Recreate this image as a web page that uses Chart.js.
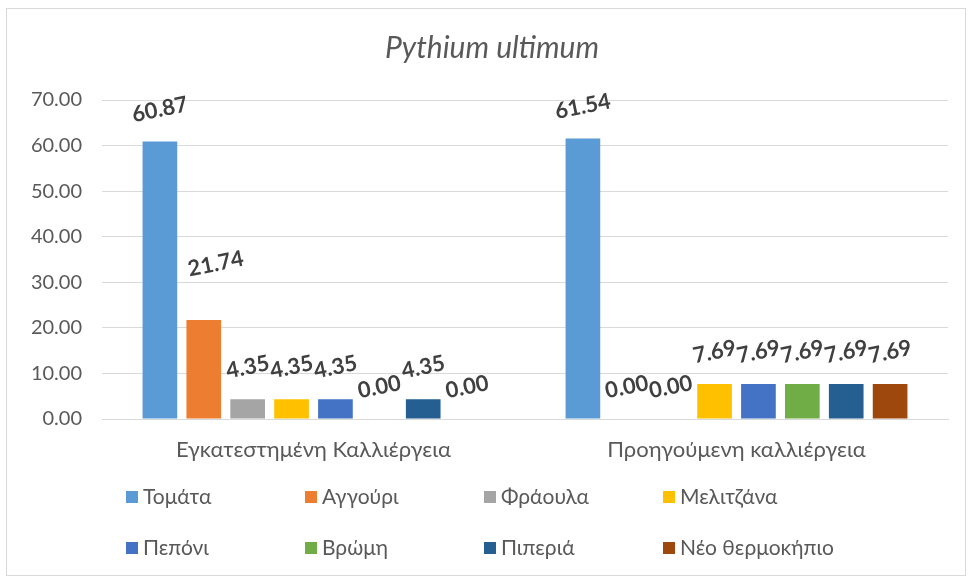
<!DOCTYPE html>
<html>
<head>
<meta charset="utf-8">
<script src="https://cdn.jsdelivr.net/npm/chart.js@4.4.0/dist/chart.umd.min.js"></script>
<style>
  html, body { margin: 0; padding: 0; background: #fff; }
  #wrap { position: relative; width: 969px; height: 579px; }
  #frame { position: absolute; left: 6px; top: 8px; width: 958px; height: 566px; border: 1px solid #d9d9d9; pointer-events: none; }
</style>
</head>
<body>
<div id="wrap">
  <canvas id="barChart" width="969" height="579"></canvas>
  <div id="frame"></div>
</div>
<script>
const categories = ['Εγκατεστημένη Καλλιέργεια', 'Προηγούμενη καλλιέργεια'];
const crops = ['Τομάτα', 'Αγγούρι', 'Φράουλα', 'Μελιτζάνα', 'Πεπόνι', 'Βρώμη', 'Πιπεριά', 'Νέο θερμοκήπιο'];
const colors = ['#5b9bd5', '#ed7d31', '#a5a5a5', '#ffc000', '#4472c4', '#70ad47', '#255e91', '#9e480e'];

// percentage per crop, [installed crop, previous crop]
const tomato     = [60.87, 61.54];
const cucumber   = [21.74, 0.00];
const strawberry = [4.35, 0.00];
const eggplant   = [4.35, 7.69];
const melon      = [4.35, 7.69];
const oats       = [0.00, 7.69];
const pepper     = [4.35, 7.69];
const greenhouse = [0.00, 7.69];
const series = [tomato, cucumber, strawberry, eggplant, melon, oats, pepper, greenhouse];

const yTicks = [0, 10, 20, 30, 40, 50, 60, 70];

const FONT = 'Lato, "Open Sans", sans-serif';
const GREY = '#595959';

// value labels, tilted like the spreadsheet original
const valueLabels = {
  id: 'valueLabels',
  afterDatasetsDraw(chart) {
    const ctx = chart.ctx;
    ctx.save();
    ctx.font = 'bold 22px ' + FONT;
    ctx.fillStyle = '#404040';
    ctx.textAlign = 'center';
    ctx.textBaseline = 'middle';
    chart.data.datasets.forEach((ds, i) => {
      chart.getDatasetMeta(i).data.forEach((bar, j) => {
        let dx = 0, dy = -32;
        if (i === 1 && j === 0) { dx = 12; dy = -56; }
        ctx.save();
        ctx.translate(bar.x + dx, bar.y + dy);
        ctx.rotate(-0.2);
        ctx.fillText(ds.data[j].toFixed(2), 0, 0);
        ctx.restore();
      });
    });
    ctx.restore();
  }
};

// title and a two-row, four-column legend
const decorations = {
  id: 'decorations',
  afterDraw(chart) {
    const ctx = chart.ctx;
    ctx.save();
    ctx.fillStyle = GREY;
    ctx.font = 'italic 30px ' + FONT;
    ctx.textAlign = 'center';
    ctx.textBaseline = 'middle';
    ctx.fillText('Pythium ultimum', 492, 48);

    ctx.font = '21px ' + FONT;
    ctx.textAlign = 'left';
    chart.data.datasets.forEach((ds, i) => {
      const col = i % 4, row = Math.floor(i / 4);
      const x = 126 + col * 179;
      const y = 497 + row * 51;
      ctx.fillStyle = ds.backgroundColor;
      ctx.fillRect(x, y - 6, 12, 12);
      ctx.fillStyle = GREY;
      ctx.fillText(ds.label, x + 17, y);
    });
    ctx.restore();
  }
};

new Chart(document.getElementById('barChart').getContext('2d'), {
  type: 'bar',
  data: {
    labels: categories,
    datasets: crops.map((name, i) => ({
      label: name,
      data: series[i],
      backgroundColor: colors[i],
      borderWidth: 0,
      categoryPercentage: 0.83,
      barPercentage: 0.79
    }))
  },
  options: {
    responsive: false,
    animation: false,
    layout: { padding: { top: 100, left: 0, right: 21, bottom: 110 } },
    plugins: {
      legend: { display: false },
      title: { display: false },
      tooltip: { enabled: false }
    },
    scales: {
      x: {
        grid: { display: false },
        border: { display: true, color: '#d9d9d9', width: 1 },
        ticks: { color: GREY, font: { family: FONT, size: 22 }, padding: 10 },
        afterFit: s => { s.height = 50; }
      },
      y: {
        min: 0,
        max: 70,
        afterBuildTicks: s => { s.ticks = yTicks.map(v => ({ value: v })); },
        grid: { color: '#d9d9d9', drawTicks: false },
        border: { display: false },
        ticks: {
          color: GREY,
          font: { family: FONT, size: 20 },
          padding: 20,
          callback: v => v.toFixed(2)
        },
        afterFit: s => { s.width = 102; }
      }
    }
  },
  plugins: [valueLabels, decorations]
});
</script>
</body>
</html>
